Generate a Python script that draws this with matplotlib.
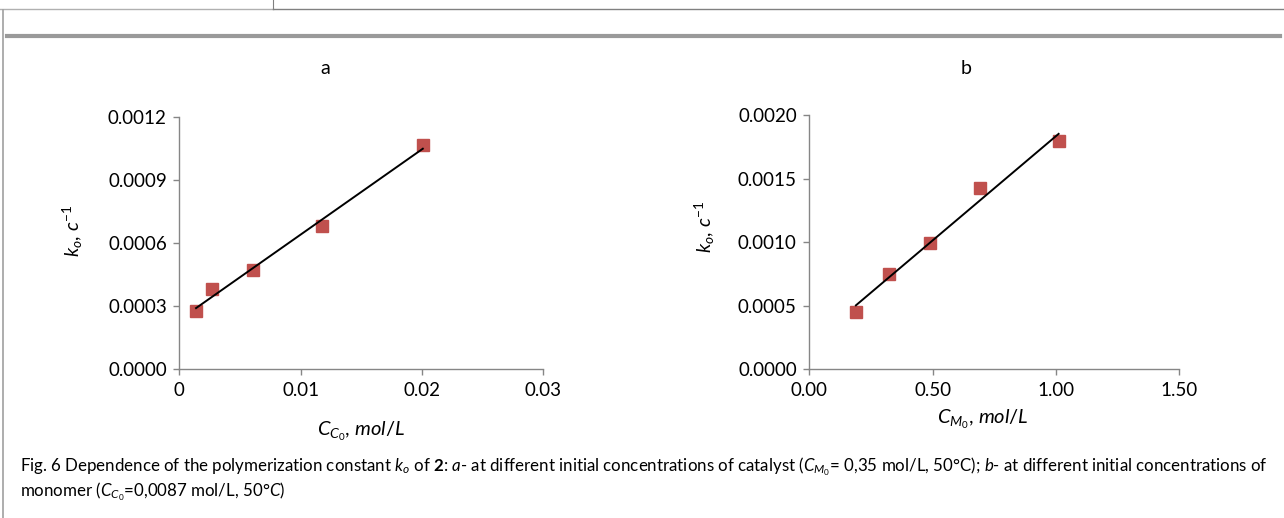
import numpy as np
import matplotlib
matplotlib.use("Agg")
import matplotlib.pyplot as plt
from matplotlib.lines import Line2D

W, H = 1284, 518

plt.rcParams.update({
    "font.family": ["Lato", "DejaVu Sans"],
    "mathtext.fontset": "custom",
    "mathtext.rm": "Lato",
    "mathtext.it": "Lato:italic",
    "mathtext.bf": "Lato:bold",
    "font.size": 12,
})

AXIS_C = "#868686"
MARK_C = "#c0504d"

# panel a: catalyst concentration series
cat_conc = [0.00138, 0.00267, 0.0061, 0.01174, 0.02007]
ko_cat = [0.000278, 0.00038, 0.000471, 0.00068, 0.001065]
# panel b: monomer concentration series
mon_conc = [0.189, 0.324, 0.490, 0.692, 1.011]
ko_mon = [0.00045, 0.000749, 0.00099, 0.001423, 0.001792]

xticks_a = [0, 0.01, 0.02, 0.03]
xtick_labels_a = ["0", "0.01", "0.02", "0.03"]
yticks_a = [0, 0.0003, 0.0006, 0.0009, 0.0012]
xticks_b = [0, 0.5, 1.0, 1.5]
yticks_b = [0, 0.0005, 0.0010, 0.0015, 0.0020]


def px_box(l, r, t, b):
    return [l / W, 1 - b / H, (r - l) / W, (b - t) / H]


def style(ax):
    for s in ("top", "right"):
        ax.spines[s].set_visible(False)
    for s in ("left", "bottom"):
        ax.spines[s].set_color(AXIS_C)
        ax.spines[s].set_linewidth(1.0)
    ax.tick_params(direction="out", length=4, width=1.0, color=AXIS_C,
                   labelsize=13.5, pad=5)


def panel(ax, x, y):
    ax.plot(x, y, "s", color=MARK_C, ms=8, zorder=2)
    k, b = np.polyfit(x, y, 1)
    xs = np.array([min(x), max(x)])
    ax.plot(xs, k * xs + b, color="black", lw=1.4, zorder=3)


fig = plt.figure(figsize=(W / 100, H / 100), dpi=100)

# page decorations
def hline(y, x0, x1, c, lw):
    fig.add_artist(Line2D([x0 / W, x1 / W], [1 - y / H, 1 - y / H], color=c, lw=lw))

def vline(x, y0, y1, c, lw):
    fig.add_artist(Line2D([x / W, x / W], [1 - y0 / H, 1 - y1 / H], color=c, lw=lw))

hline(8.5, 0, 273, "#b0b0b0", 1.0)
hline(8.5, 273, W, "#808080", 1.0)
vline(273, 0, 8.5, "#808080", 0.8)
vline(2.5, 10, H, "#a0a0a0", 1.2)
hline(35.5, 7, 1280, "#9a9a9a", 3.0)

# panel a
ax1 = fig.add_axes(px_box(179.3, 543.3, 116.7, 369.3))
panel(ax1, cat_conc, ko_cat)
ax1.set_xlim(0, 0.03)
ax1.set_ylim(0, 0.0012)
ax1.set_xticks(xticks_a, xtick_labels_a)
ax1.set_yticks(yticks_a, [f"{v:.4f}" for v in yticks_a])
style(ax1)
ax1.set_xlabel(r"$C_{C_0}$, $\mathit{mol/L}$", fontsize=14.5)
ax1.xaxis.set_label_coords(0.5, -0.2)
ax1.set_ylabel(r"$k_o$, $c^{-1}$", fontsize=14)
ax1.yaxis.set_label_coords(-0.26, 0.55)

# panel b
ax2 = fig.add_axes(px_box(809.3, 1179.2, 115, 369.3))
panel(ax2, mon_conc, ko_mon)
ax2.set_xlim(0, 1.5)
ax2.set_ylim(0, 0.002)
ax2.set_xticks(xticks_b, [f"{v:.2f}" for v in xticks_b])
ax2.set_yticks(yticks_b, [f"{v:.4f}" for v in yticks_b])
style(ax2)
ax2.set_xlabel(r"$C_{M_0}$, $\mathit{mol/L}$", fontsize=14.5)
ax2.xaxis.set_label_coords(0.47, -0.15)
ax2.set_ylabel(r"$k_o$, $c^{-1}$", fontsize=14)
ax2.yaxis.set_label_coords(-0.25, 0.56)

fig.text(325 / W, 1 - 68 / H, "a", ha="center", va="center", fontsize=14)
fig.text(966 / W, 1 - 68 / H, "b", ha="center", va="center", fontsize=14)

cap1 = (r"Fig. 6 Dependence of the polymerization constant $k_o$ of $\mathbf{2}$: "
        r"$\mathit{a}$- at different initial concentrations of catalyst "
        r"($C_{M_0}$= 0,35 mol/L, 50°C); $\mathit{b}$- at different initial "
        r"concentrations of")
cap2 = r"monomer ($C_{C_0}$=$\mathit{0{,}0087}$ mol/L$\mathit{{,}\ 50°C}$)"
fig.text(20 / W, 1 - 467 / H, cap1, ha="left", va="center", fontsize=12.2)
fig.text(20 / W, 1 - 492 / H, cap2, ha="left", va="center", fontsize=12.2)

fig.savefig("out.png", dpi=100)
